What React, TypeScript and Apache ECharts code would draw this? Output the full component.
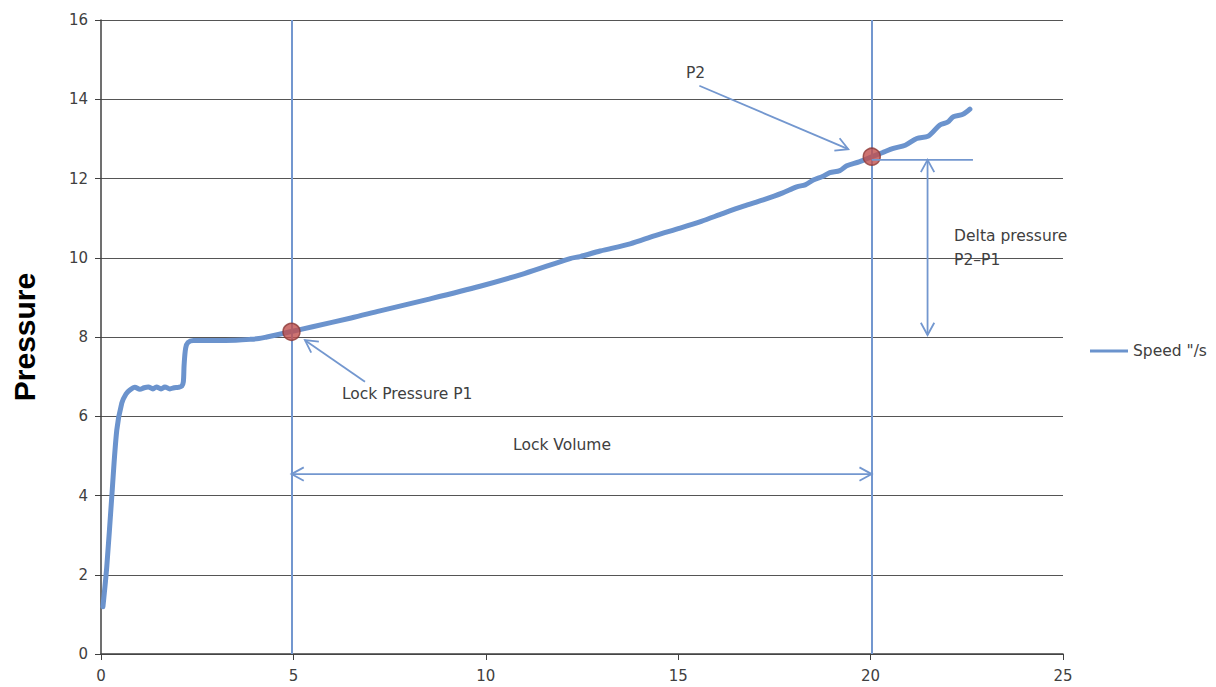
import React, { useEffect, useRef } from "react";
import * as echarts from "echarts";

// ---- data ----
const seriesName = 'Speed "/s';
const yAxisName = "Pressure";
const xMin = 0, xMax = 25, xStep = 5;
const yMin = 0, yMax = 16, yStep = 2;

const curveX = [
  0.05, 0.15, 0.28, 0.41, 0.54, 0.65, 0.75, 0.88, 1.01, 1.12, 1.23, 1.35, 1.44, 1.56, 1.66, 1.79, 1.9, 2.01, 2.1,
  2.14, 2.16, 2.2, 2.26, 2.4, 3.0, 3.5, 3.87, 4.1, 4.31, 4.55, 4.78, 4.95, 5.5, 6.5, 7.25, 8.5, 9.85, 11.0, 12.19,
  12.45, 12.97, 13.75, 14.4, 15.05, 15.6, 16.17, 16.7, 17.21, 17.7, 18.08, 18.3, 18.51, 18.75, 18.94, 19.2, 19.38,
  19.7, 19.98, 20.3, 20.59, 20.9, 21.2, 21.5, 21.8, 22.0, 22.15, 22.4, 22.58,
];
const curveY = [
  1.19, 2.2, 3.97, 5.65, 6.33, 6.56, 6.66, 6.73, 6.68, 6.72, 6.74, 6.69, 6.74, 6.69, 6.74, 6.69, 6.72, 6.73, 6.76,
  6.87, 7.3, 7.72, 7.86, 7.91, 7.91, 7.92, 7.94, 7.96, 8.0, 8.05, 8.1, 8.14, 8.26, 8.48, 8.66, 8.95, 9.28, 9.6, 9.98,
  10.03, 10.17, 10.35, 10.56, 10.75, 10.92, 11.12, 11.3, 11.46, 11.63, 11.79, 11.84, 11.96, 12.05, 12.15, 12.2, 12.32,
  12.42, 12.53, 12.65, 12.76, 12.84, 13.01, 13.07, 13.35, 13.42, 13.56, 13.62, 13.75,
];
const p1 = [4.95, 8.13];
const p2 = [20.03, 12.55];

const labelP2 = "P2";
const labelP1 = "Lock Pressure P1";
const labelVolume = "Lock Volume";
const labelDelta1 = "Delta pressure";
const labelDelta2 = "P2\u2013P1";

export default function App() {
  const ref = useRef<HTMLDivElement>(null);
  useEffect(() => {
    document.body.style.margin = "0";
    const chart = echarts.init(ref.current!, null, { renderer: "svg" });
    const blue = "#6b93cd";
    const annBlue = "#7397cf";
    const textColor = "#404040";
    const font = "DejaVu Sans";
    chart.setOption({
      animation: false,
      backgroundColor: "#ffffff",
      grid: { left: 101, right: 153, top: 20, bottom: 33 },
      legend: {
        data: [seriesName],
        orient: "vertical",
        left: 1085,
        top: 338,
        itemWidth: 38,
        itemHeight: 14,
        itemGap: 7,
        icon: "path://M0,6 L38,6 L38,9 L0,9 Z",
        textStyle: { color: textColor, fontSize: 15.5, fontFamily: font },
      },
      xAxis: {
        type: "value",
        min: xMin,
        max: xMax,
        interval: xStep,
        axisLine: { show: true, onZero: false, lineStyle: { color: "#404040", width: 1.5 } },
        axisTick: { show: true, length: 6, lineStyle: { color: "#404040" } },
        splitLine: { show: false },
        axisLabel: { color: textColor, fontSize: 15, fontFamily: font, margin: 14 },
      },
      yAxis: {
        type: "value",
        min: yMin,
        max: yMax,
        interval: yStep,
        name: yAxisName,
        nameLocation: "middle",
        nameGap: 62,
        nameTextStyle: { color: "#000", fontSize: 30, fontWeight: "bold", fontFamily: "Liberation Sans" },
        axisLine: { show: true, lineStyle: { color: "#404040", width: 1.5 } },
        axisTick: { show: true, length: 6, lineStyle: { color: "#404040" } },
        splitLine: { show: true, lineStyle: { color: "#555555", width: 1 } },
        axisLabel: { color: textColor, fontSize: 15, fontFamily: font, margin: 13 },
      },
      series: [
        {
          name: seriesName,
          type: "line",
          data: curveX.map((x, i) => [x, curveY[i]]),
          symbol: "none",
          smooth: 0.3,
          lineStyle: { color: blue, width: 5, cap: "round", join: "round" },
          itemStyle: { color: blue },
          z: 2,
          markLine: {
            silent: true,
            symbol: ["none", "none"],
            label: { show: false },
            lineStyle: { color: annBlue, width: 2, type: "solid" },
            data: [{ xAxis: p1[0] }, { xAxis: p2[0] }],
          },
        },
        {
          name: "points",
          type: "scatter",
          data: [p1, p2],
          symbolSize: 17,
          itemStyle: { color: "#c0504d", borderColor: "#8c3a37", borderWidth: 1.5 },
          z: 5,
        },
      ],
    });

    const px = (x: number, y: number) => chart.convertToPixel({ gridIndex: 0 }, [x, y]) as number[];
    const els: any[] = [];
    const seg = (a: number[], b: number[]) =>
      els.push({ type: "line", silent: true, z: 10, shape: { x1: a[0], y1: a[1], x2: b[0], y2: b[1] }, style: { stroke: annBlue, lineWidth: 1.8 } });
    const head = (tip: number[], from: number[]) => {
      const ang = Math.atan2(from[1] - tip[1], from[0] - tip[0]);
      const L = 14, h = 0.5;
      els.push({
        type: "polyline",
        silent: true,
        z: 10,
        shape: {
          points: [
            [tip[0] + L * Math.cos(ang + h), tip[1] + L * Math.sin(ang + h)],
            tip,
            [tip[0] + L * Math.cos(ang - h), tip[1] + L * Math.sin(ang - h)],
          ],
        },
        style: { stroke: annBlue, lineWidth: 1.8, fill: null },
      });
    };
    const txt = (s: string, p: number[], align: string) =>
      els.push({
        type: "text",
        silent: true,
        z: 11,
        x: p[0],
        y: p[1],
        style: { text: s, fill: textColor, fontSize: 15.5, fontFamily: font, align, verticalAlign: "middle" },
      });

    // P2 arrow
    const p2Tail = px(15.55, 14.34), p2Tip = px(19.42, 12.74);
    seg(p2Tail, p2Tip); head(p2Tip, p2Tail);
    txt(labelP2, px(15.2, 14.66), "left");
    // P1 arrow
    const p1Tail = px(6.86, 6.87), p1Tip = px(5.3, 7.92);
    seg(p1Tail, p1Tip); head(p1Tip, p1Tail);
    txt(labelP1, px(6.26, 6.56), "left");
    // Lock volume double arrow
    const vA = px(p1[0], 4.54), vB = px(p2[0], 4.54);
    seg(vA, vB); head(vA, vB); head(vB, vA);
    txt(labelVolume, px(11.98, 5.28), "center");
    // Delta pressure
    const hA = px(p2[0], 12.47), hB = px(22.66, 12.47);
    seg(hA, hB);
    const dTop = px(21.48, 12.47), dBot = px(21.48, 8.05);
    seg(dTop, dBot); head(dTop, dBot); head(dBot, dTop);
    txt(labelDelta1, px(22.17, 10.55), "left");
    txt(labelDelta2, px(22.17, 9.94), "left");

    chart.setOption({ graphic: els });
    return () => chart.dispose();
  }, []);
  return <div ref={ref} style={{ width: 1216, height: 687 }} />;
}
